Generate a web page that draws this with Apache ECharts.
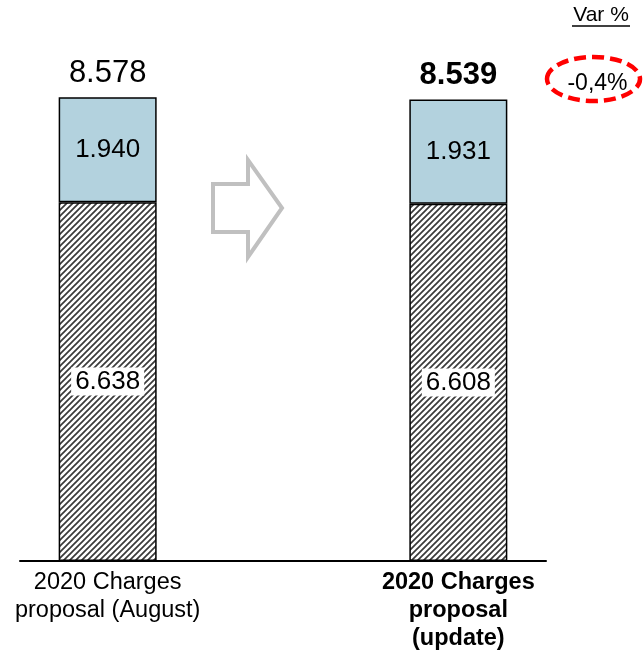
<!DOCTYPE html>
<html><head><meta charset="utf-8">
<script src="https://cdn.jsdelivr.net/npm/echarts@6/dist/echarts.min.js"></script>
<style>html,body{margin:0;padding:0;background:#fff}#c{width:644px;height:653px}</style>
</head><body><div id="c"></div>
<script>
const categories = ['2020 Charges\nproposal (August)', '', '2020 Charges\nproposal\n(update)'];
const baseValues = [6638, null, 6608];
const topValues = [1940, null, 1931];
const totals = [8578, null, 8539];
const varLabel = 'Var %';
const varValue = '-0,4%';

function fmt(v){ return String(v).replace(/\B(?=(\d{3})+(?!\d))/g, '.'); }

// hatch pattern
const pc = document.createElement('canvas');
pc.width = 6; pc.height = 6;
const g = pc.getContext('2d');
g.fillStyle = '#ffffff'; g.fillRect(0,0,6,6);
g.strokeStyle = '#3a3a3a'; g.lineWidth = 1.7;
g.beginPath();
g.moveTo(-1,7); g.lineTo(7,-1);
g.moveTo(-4,4); g.lineTo(4,-4);
g.moveTo(2,10); g.lineTo(10,2);
g.stroke();

const chart = echarts.init(document.getElementById('c'));
const font = '"Liberation Sans", Arial, sans-serif';
chart.setOption({
  animation: false,
  grid: { left: 20, right: 98, top: 20.4, bottom: 87 },
  xAxis: {
    type: 'category', data: categories,
    axisLine: { lineStyle: { color: '#000', width: 2 } },
    axisTick: { show: false },
    axisLabel: {
      interval: 0, margin: 8, color: '#000', fontFamily: font, fontSize: 23.5, lineHeight: 28,
      formatter: function (v, i) {
        if (i === 2) return v.split('\n').map(s => '{b|' + s + '}').join('\n');
        return v;
      },
      rich: { b: { fontWeight: 'bold', fontSize: 23.5, lineHeight: 28, fontFamily: font, color: '#000' } }
    }
  },
  yAxis: { type: 'value', min: 0, max: 10000, show: false, splitLine: { show: false } },
  series: [
    {
      type: 'bar', stack: 's', barWidth: 98, data: baseValues,
      itemStyle: { color: { image: pc, repeat: 'repeat' }, borderColor: '#000', borderWidth: 1.5 },
      label: { show: true, position: 'inside', formatter: p => fmt(p.value), fontFamily: font, fontSize: 26,
        color: '#000', backgroundColor: '#fff', padding: [2, 4, 0, 4] }
    },
    {
      type: 'bar', stack: 's', barWidth: 98, data: topValues,
      itemStyle: { color: '#b3d2de', borderColor: '#000', borderWidth: 1.5 },
      label: { show: true, position: 'inside', formatter: p => fmt(p.value), fontFamily: font, fontSize: 26, color: '#000' }
    },
    {
      type: 'scatter', symbolSize: 0, data: totals, silent: true,
      itemStyle: { opacity: 1 },
      label: { show: true, position: 'top', distance: 8, fontFamily: font, fontSize: 31, color: '#000', opacity: 1,
        formatter: p => p.dataIndex === 2 ? '{b|' + fmt(p.value) + '}' : fmt(p.value),
        rich: { b: { fontWeight: 'bold', fontSize: 31, fontFamily: font, color: '#000' } } }
    }
  ],
  graphic: [
    { type: 'polygon', shape: { points: [[213,184],[248,184],[248,160],[282,208],[248,257],[248,232],[213,232]] },
      style: { fill: 'none', stroke: '#c0c0c0', lineWidth: 4, lineJoin: 'miter' } },
    { type: 'text', x: 601, y: 15, style: { text: varLabel, fontFamily: font, fontSize: 21, fill: '#000', align: 'center', verticalAlign: 'middle' } },
    { type: 'line', shape: { x1: 572, y1: 26, x2: 630, y2: 26 }, style: { stroke: '#000', lineWidth: 1.3 } },
    { type: 'ellipse', shape: { cx: 593.5, cy: 79, rx: 46.5, ry: 22 },
      style: { fill: 'none', stroke: '#ff0000', lineWidth: 4.5, lineDash: [12, 6] } },
    { type: 'text', x: 597.5, y: 84, style: { text: varValue, fontFamily: font, fontSize: 23, fill: '#000', align: 'center', verticalAlign: 'middle' } }
  ]
});
</script></body></html>
